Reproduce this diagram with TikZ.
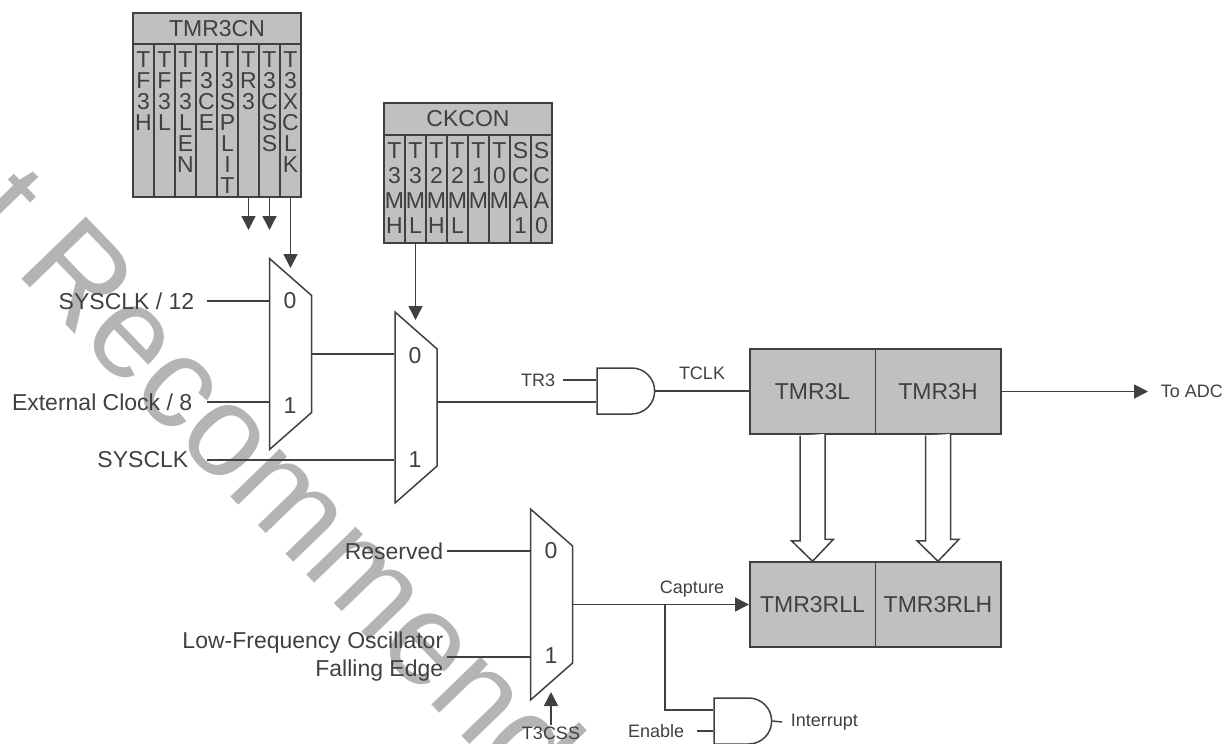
\documentclass[tikz,border=0pt]{standalone}
\usepackage{fontspec}
\setmainfont{Liberation Sans}
\usetikzlibrary{arrows.meta,shapes.geometric,shapes.gates.logic.US}
\definecolor{linegray}{HTML}{404040}
\definecolor{regfill}{HTML}{C0C0C0}
\definecolor{markgray}{HTML}{B4B4B4}

\begin{document}
\begin{tikzpicture}[
    x=1pt, y=-1pt,
    line width=1.5pt, draw=linegray, text=linegray,
    bigtext/.style={font=\fontsize{23}{28}\selectfont},
    smalltext/.style={font=\fontsize{18}{22}\selectfont},
    regbox/.style={draw, fill=regfill, minimum width=168pt, inner sep=0pt, bigtext},
    regcell/.style={draw, fill=regfill, minimum width=21pt, inner sep=0pt},
    celltext/.style={anchor=north, inner sep=0pt, align=center},
    timerbox/.style={draw, fill=regfill, minimum width=125.5pt, minimum height=85pt, inner sep=0pt, bigtext},
    muxbox/.style={draw, fill=white, shape=trapezium, trapezium stretches=true, trapezium left angle=72.5,
        trapezium right angle=72.5, minimum width=191pt, minimum height=42pt, inner sep=1pt, rotate=-90},
    gatebox/.style={draw, fill=white, and gate US, logic gate inputs=nn, minimum width=48pt, minimum height=46pt, inner sep=1pt},
    inlabel/.style={anchor=east, inner ysep=0pt, bigtext},
    sigarrow/.style={-{Triangle[length=14pt,width=14pt]}},
    hollowarrow/.style={fill=white}
]
\useasboundingbox (0,0) rectangle (1227,744);

% Watermark
\begin{scope}
\clip (0,0) rectangle (1227,744);
\node[anchor=base west, rotate=-46, inner sep=0pt, text=markgray, font=\fontsize{130}{130}\selectfont] (notrec) at (-152,100) {Not Recommended};
\end{scope}

% TMR3CN register
\node[regbox, minimum height=31pt] (tmrcn) at (217,28.5) {TMR3CN};
\foreach \bits [count=\i] in {T\\F\\3\\H, T\\F\\3\\L, T\\F\\3\\L\\E\\N, T\\3\\C\\E, T\\3\\S\\P\\L\\I\\T, T\\R\\3, T\\3\\C\\S\\S, T\\3\\X\\C\\L\\K} {
    \node[regcell, minimum height=153pt] (cn\i) at ({143.5+21*(\i-1)},120.5) {};
    \node[celltext, font=\fontsize{23}{21}\selectfont] (cntext\i) at ({143.5+21*(\i-1)},51) {\bits};
}

% CKCON register
\node[regbox, minimum height=32pt] (ckcon) at (468,119) {CKCON};
\foreach \bits [count=\i] in {T\\3\\M\\H, T\\3\\M\\L, T\\2\\M\\H, T\\2\\M\\L, T\\1\\M, T\\0\\M, S\\C\\A\\1, S\\C\\A\\0} {
    \node[regcell, minimum height=108pt] (ck\i) at ({394.5+21*(\i-1)},189) {};
    \node[celltext, font=\fontsize{23}{25}\selectfont] (cktext\i) at ({394.5+21*(\i-1)},142) {\bits};
}

% Multiplexers
\node[muxbox] (muxa) at (290.5,354) {};
\node[muxbox] (muxb) at (416,407.5) {};
\node[muxbox] (muxc) at (551.5,604.5) {};
\node[bigtext] (muxa0) at (290,301) {0};
\node[bigtext] (muxa1) at (290,406) {1};
\node[bigtext] (muxb0) at (415,356) {0};
\node[bigtext] (muxb1) at (415,460) {1};
\node[bigtext] (muxc0) at (551,551) {0};
\node[bigtext] (muxc1) at (551,656) {1};

% Gates
\node[gatebox] (anda) at (624,391) {};
\node[gatebox] (andb) at (741,721) {};

% Timer registers
\node[timerbox] (tmrl) at (812.5,391.5) {TMR3L};
\node[timerbox] (tmrh) at (938,391.5) {TMR3H};
\node[timerbox] (rll) at (812.5,604.5) {TMR3RLL};
\node[timerbox] (rlh) at (938,604.5) {TMR3RLH};

% Labels
\node[inlabel, inner xsep=12pt] (sysdiv) at (207,301) {SYSCLK / 12};
\node[inlabel, inner xsep=14pt] (extclk) at (207,402) {External Clock / 8};
\node[inlabel, inner xsep=18pt] (sysclk) at (207,460) {SYSCLK};
\node[inlabel, inner xsep=3pt] (reserved) at (447,551) {Reserved};
\node[inlabel, inner xsep=3pt, align=right] (lfo) at (447,657) {Low-Frequency Oscillator\\Falling Edge};
\node[smalltext, anchor=east, inner xsep=7pt] (trlabel) at (563,380) {TR3};
\node[smalltext] (tclk) at (702,373) {TCLK};
\node[smalltext] (capture) at (692,589) {Capture};
\node[smalltext, anchor=west, inner xsep=12pt] (toadc) at (1148,391.5) {To ADC};
\node[smalltext, inner sep=1pt] (csslabel) at (551,733) {T3CSS};
\node[smalltext, anchor=east, inner xsep=12pt] (enable) at (697,731) {Enable};
\node[smalltext, anchor=west, inner xsep=8pt] (interrupt) at (782,722) {Interrupt};

% Free ends of the select lines
\coordinate (tipa) at (248,230);
\coordinate (tipxclk) at (290,268);
\coordinate (tipck) at (415,320);
\coordinate (tipcss) at (551,692);
\coordinate (capnode) at (665,604.5);
\coordinate (muxbout) at (437,402);
\coordinate (capin) at (714,710);

% Select lines
\draw[sigarrow] (cn6.south) -- (cn6.south |- tipa);
\draw[sigarrow] (cn7.south) -- (cn7.south |- tipa);
\draw[sigarrow] (cn8.south) -- (cn8.south |- tipxclk);
\draw[sigarrow] (ck2.south) -- (ck2.south |- tipck);
\draw[sigarrow] (csslabel.north) -- (csslabel.north |- tipcss);

% Clock path
\draw (sysdiv.east) -- (sysdiv.east -| muxa.south);
\draw (extclk.east) -- (extclk.east -| muxa.south);
\draw (sysclk.east) -- (sysclk.east -| muxb.south);
\draw (muxa.north) -- (muxa.north -| muxb.south);
\draw (muxbout) -- (muxbout -| anda.west);
\draw (trlabel.east) -- (trlabel.east -| anda.west);
\draw (anda.output) -- (anda.output -| tmrl.west);
\draw[sigarrow] (tmrh.east) -- (toadc.west);

% Capture path
\draw (reserved.east) -- (reserved.east -| muxc.south);
\draw (lfo.east) -- (lfo.east -| muxc.south);
\draw[sigarrow] (muxc.north) -- (rll.west);
\draw (capnode) |- (capin -| andb.west);
\draw (enable.east) -- (enable.east -| andb.west);
\draw (andb.output) -- (interrupt.west);

% Reload arrows
\foreach \from/\to in {tmrl/rll, tmrh/rlh} {
    \draw[hollowarrow] (\from.south) ++(-12.5,0.75) -- ++(0,105.25) -- ++(-8.5,0) -- (\to.north) -- ++(21,-22) -- ++(-8.5,0) -- ++(0,-105.25);
}

\end{tikzpicture}
\end{document}
